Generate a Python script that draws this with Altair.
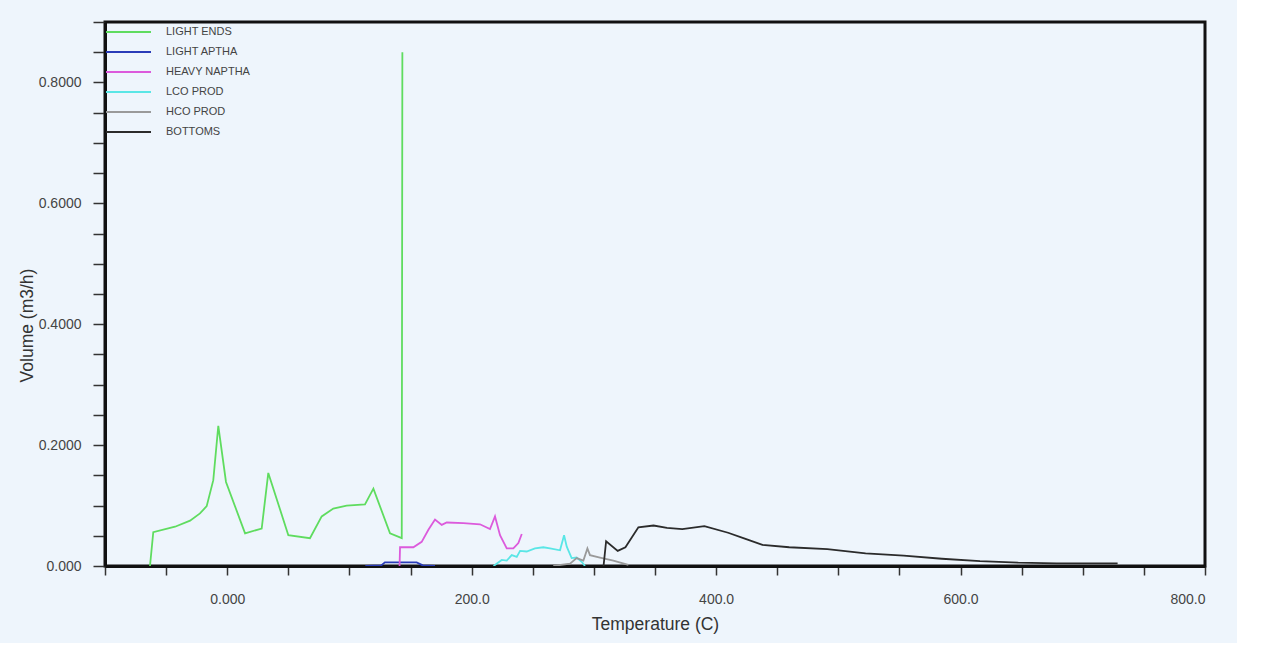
import altair as alt
import pandas as pd

# Product streams, in legend order
series_names = ["LIGHT ENDS", "LIGHT APTHA", "HEAVY NAPTHA", "LCO PROD", "HCO PROD", "BOTTOMS"]
series_colors = ["#5fdc5f", "#2a3cb8", "#dc5adc", "#5ae6e6", "#9a9a9a", "#2b2b2b"]

# Temperature (C) / volume (m3/h) profiles per stream
light_ends_t = [-63.2, -60.5, -42.7, -30.4, -22.3, -16.8, -11.4, -7.3, -1.0, 14.6, 28.2,
                33.6, 50.0, 67.7, 77.3, 86.8, 97.7, 112.7, 119.6, 133.2, 142.8, 143.3]
light_ends_v = [0.0, 0.056, 0.065, 0.075, 0.087, 0.099, 0.142, 0.232, 0.139, 0.054, 0.062,
                0.154, 0.051, 0.046, 0.082, 0.095, 0.100, 0.102, 0.128, 0.054, 0.046, 0.850]

light_aptha_t = [113.0, 126.0, 129.0, 155.0, 160.0, 170.0]
light_aptha_v = [0.0, 0.001, 0.006, 0.006, 0.001, 0.0]

heavy_naptha_t = [141.0, 141.4, 152.3, 159.1, 164.6, 170.0, 175.5, 179.6, 193.2, 206.8,
                  215.0, 219.1, 223.2, 228.7, 234.1, 238.2, 241.0]
heavy_naptha_v = [0.0, 0.031, 0.031, 0.040, 0.060, 0.077, 0.068, 0.072, 0.071, 0.069,
                  0.061, 0.082, 0.051, 0.029, 0.029, 0.038, 0.053]

lco_t = [217.9, 224.6, 228.7, 232.8, 236.9, 239.6, 245.0, 251.8, 258.6, 264.1, 272.3,
         275.6, 277.8, 281.8, 285.9, 290.0, 292.7]
lco_v = [0.0, 0.010, 0.009, 0.018, 0.015, 0.025, 0.024, 0.029, 0.031, 0.029, 0.026,
         0.051, 0.032, 0.013, 0.014, 0.007, 0.0]

hco_t = [266.8, 280.5, 285.9, 291.4, 294.7, 296.8, 305.0, 315.9, 328.2]
hco_v = [0.0, 0.004, 0.013, 0.009, 0.029, 0.018, 0.014, 0.009, 0.002]

bottoms_t = [307.9, 310.0, 319.5, 325.8, 336.4, 348.8, 359.8, 372.3, 390.4, 409.8, 422.3,
             437.9, 459.8, 491.0, 522.3, 553.5, 584.7, 615.9, 647.2, 678.5, 728.5]
bottoms_v = [0.0, 0.041, 0.025, 0.031, 0.064, 0.067, 0.063, 0.061, 0.066, 0.055, 0.046,
             0.035, 0.031, 0.028, 0.021, 0.017, 0.012, 0.008, 0.0055, 0.0045, 0.0045]

profiles = [
    (light_ends_t, light_ends_v),
    (light_aptha_t, light_aptha_v),
    (heavy_naptha_t, heavy_naptha_v),
    (lco_t, lco_v),
    (hco_t, hco_v),
    (bottoms_t, bottoms_v),
]

rows = []
for name, (ts, vs) in zip(series_names, profiles):
    for i, (t, v) in enumerate(zip(ts, vs)):
        rows.append({"stream": name, "temp": t, "vol": v, "idx": i})
df = pd.DataFrame(rows)

x_ticks = list(range(-100, 801, 50))
y_ticks = [round(0.05 * k, 2) for k in range(0, 19)]

chart = (
    alt.Chart(df)
    .mark_line(strokeWidth=1.8, clip=True)
    .encode(
        x=alt.X(
            "temp:Q",
            title="Temperature (C)",
            scale=alt.Scale(domain=[-100, 800], nice=False, zero=False),
            axis=alt.Axis(
                values=x_ticks,
                labelExpr="datum.value == 0 ? '0.000' : (datum.value % 200 == 0 && datum.value > 0 ? format(datum.value, '.1f') : '')",
                grid=False,
                tickSize=9,
                labelPadding=17,
                titlePadding=9,
            ),
        ),
        y=alt.Y(
            "vol:Q",
            title="Volume (m3/h)",
            scale=alt.Scale(domain=[0, 0.9], nice=False),
            axis=alt.Axis(
                values=y_ticks,
                labelExpr="datum.value == 0 ? '0.000' : (round(datum.value * 100) % 20 == 0 ? format(datum.value, '.4f') : '')",
                grid=False,
                tickSize=12,
                labelPadding=12,
                titleX=-78,
                titleY=303,
                titleAngle=270,
                titleBaseline="middle",
                titleAlign="center",
            ),
        ),
        color=alt.Color(
            "stream:N",
            scale=alt.Scale(domain=series_names, range=series_colors),
            legend=alt.Legend(
                title=None,
                orient="top-left",
                offset=0,
                padding=0,
                symbolType="stroke",
                symbolSize=2025,
                symbolStrokeWidth=2,
                clipHeight=20,
                rowPadding=0,
                labelOffset=14,
                labelFontSize=11,
                labelColor="#444444",
                labelFont="Liberation Sans",
            ),
        ),
        order="idx:Q",
    )
    .properties(
        width=1100,
        height=544,
        autosize=alt.AutoSizeParams(type="none"),
        padding={"left": 105, "top": 22, "right": 32, "bottom": 77},
        background="#eef5fc",
    )
    .configure_view(stroke="#111111", strokeWidth=3, fill="#eef5fc")
    .configure_axis(
        domainColor="#111111",
        domainWidth=3,
        tickColor="#333333",
        tickWidth=1.5,
        labelFont="Liberation Sans",
        labelFontSize=14,
        labelColor="#444444",
        titleFont="Liberation Sans",
        titleFontSize=17.5,
        titleFontWeight="normal",
        titleColor="#333333",
    )
)

chart.save("out.html", embed_options={"renderer": "svg", "actions": False})
